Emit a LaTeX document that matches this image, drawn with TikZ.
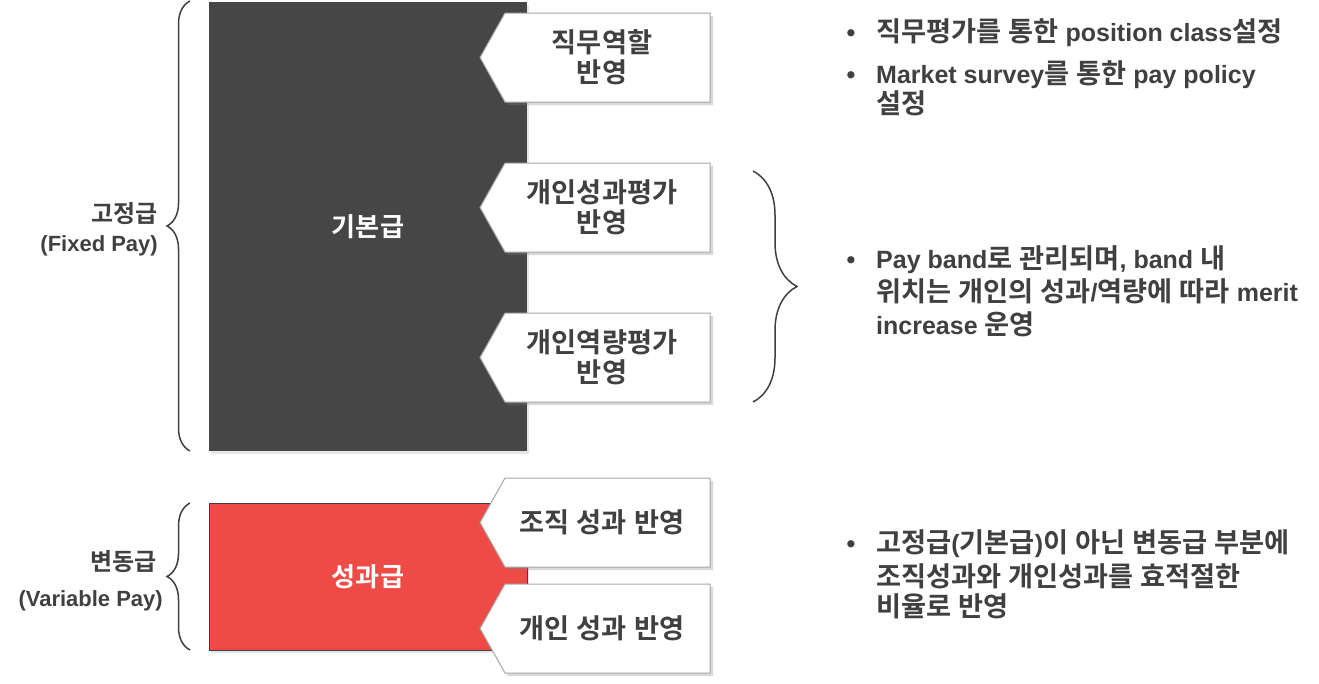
\documentclass[tikz,border=0pt]{standalone}
\usepackage{fontspec}
\setmainfont{Liberation Sans}
\newfontfamily\lab{Liberation Sans}[UprightFont=* Bold]
\newfontfamily\krb{Noto Sans CJK KR}[UprightFont=* Bold, Scale=1.09]
\usetikzlibrary{calc,shadows,decorations.pathreplacing}
\pgfdeclarelayer{bg}
\pgfdeclarelayer{mid}
\pgfsetlayers{bg,mid,main}
\definecolor{tc}{HTML}{404040}
\definecolor{darkbox}{HTML}{464646}
\definecolor{redbox}{HTML}{EE4B46}
\definecolor{boxline}{HTML}{A6A6A6}
% automatic Hangul / Latin font switching
\XeTeXinterchartokenstate=1
\chardef\krclass=20
\newcount\hc
\hc="AC00
\loop\XeTeXcharclass\hc=\krclass \advance\hc by 1 \ifnum\hc<"D7A4 \repeat
\XeTeXcharclass`\(=0
\XeTeXcharclass`\)=0
\XeTeXcharclass`\,=0
\XeTeXcharclass`\/=0
\XeTeXinterchartoks 0 \krclass={\krb}
\XeTeXinterchartoks \krclass 0={\lab}
\XeTeXinterchartoks 4095 \krclass={\krb}
\XeTeXinterchartoks \krclass 4095={\lab}
\XeTeXinterchartoks 1 \krclass={\krb}
\XeTeXinterchartoks \krclass 1={\lab}
\XeTeXinterchartoks 2 \krclass={\krb}
\XeTeXinterchartoks \krclass 2={\lab}
\XeTeXinterchartoks 3 \krclass={\krb}
\XeTeXinterchartoks \krclass 3={\lab}
\newcommand\chevshape[1]{%
  \fill[white, draw=boxline, line width=1pt,
        drop shadow={opacity=0.3, shadow xshift=3pt, shadow yshift=-3pt, fill=gray}]
    ($(#1.center)+(-97,-44.5)$) -- ($(#1.center)+(108,-44.5)$)
    -- ($(#1.center)+(108,44.5)$) -- ($(#1.center)+(-97,44.5)$)
    -- ($(#1.center)+(-122,0)$) -- cycle;}
\begin{document}
\begin{tikzpicture}[x=1pt,y=-1pt,
  boxtxt/.style={text=tc, font=\lab\fontsize{25}{30}\selectfont, align=center, inner sep=0pt},
  bigtxt/.style={text=white, font=\lab\fontsize{24}{30}\selectfont, inner sep=0pt},
  sidetxt/.style={text=tc, font=\lab\fontsize{22}{28}\selectfont, inner sep=0pt, anchor=base east},
  rtxt/.style={text=tc, font=\lab\fontsize{25}{30}\selectfont, inner sep=0pt, anchor=base west},
  bul/.style={text=tc, font=\lab\fontsize{25}{30}\selectfont, inner sep=0pt, anchor=base},
  bracestyle/.style={draw=tc, line width=1.5pt, decorate},
]
\useasboundingbox (0,0) rectangle (1319,683);

% main blocks
\begin{pgfonlayer}{bg}
\node[fill=darkbox, minimum width=318, minimum height=449, inner sep=0pt,
      drop shadow={opacity=0.2, shadow xshift=2pt, shadow yshift=-3pt, fill=gray}] (fixed) at (368,226.5) {};
\node[bigtxt] (fixedlbl) at (fixed.center) {기본급};
\node[fill=redbox, draw=tc, line width=1pt, minimum width=318, minimum height=147, inner sep=0pt,
      drop shadow={opacity=0.2, shadow xshift=2pt, shadow yshift=-3pt, fill=gray}] (var) at (368,576.5) {};
\node[bigtxt] (varlbl) at (var.center) {성과급};
\end{pgfonlayer}

% chevron labels
\node[boxtxt] (c1) at (602,57.5) {직무역할\\반영};
\node[boxtxt] (c2) at (602,207.5) {개인성과평가\\반영};
\node[boxtxt] (c3) at (602,357.5) {개인역량평가\\반영};
\node[boxtxt] (c4) at (602,522.5) {조직 성과 반영};
\node[boxtxt] (c5) at (602,628.5) {개인 성과 반영};
\begin{pgfonlayer}{mid}
\chevshape{c1}
\chevshape{c2}
\chevshape{c3}
\chevshape{c4}
\chevshape{c5}
\end{pgfonlayer}

% left braces and labels
\coordinate (b1s) at (190,451);
\coordinate (b1e) at (190,1);
\coordinate (b2s) at (190,650);
\coordinate (b2e) at (190,503);
\draw[bracestyle, decoration={brace, amplitude=23pt, aspect=0.5}] (b1s) -- (b1e);
\draw[bracestyle, decoration={brace, amplitude=23pt, aspect=0.5}] (b2s) -- (b2e);
\node[sidetxt] (l1a) at (158,222) {고정급};
\node[sidetxt] (l1b) at (158,251) {(Fixed Pay)};
\node[sidetxt] (l2a) at (157,570) {변동급};
\node[sidetxt] (l2b) at (163,606) {(Variable Pay)};

% right brace
\coordinate (b3s) at (753,171);
\coordinate (b3e) at (753,402);
\draw[bracestyle, decoration={brace, amplitude=44pt, aspect=0.5}] (b3s) -- (b3e);

% right texts
\node[bul] (d1) at (851,41.5) {•};
\node[rtxt] (t1) at (876,41.5) {직무평가를 통한 position class설정};
\node[bul] (d2) at (851,83.5) {•};
\node[rtxt] (t2) at (876,83.5) {Market survey를 통한 pay policy};
\node[rtxt] (t3) at (876,113.5) {설정};

\node[bul] (d3) at (851,268.5) {•};
\node[rtxt] (t4) at (876,268.5) {Pay band로 관리되며, band 내};
\node[rtxt] (t5) at (876,301.5) {위치는 개인의 성과/역량에 따라 merit};
\node[rtxt] (t6) at (876,334.5) {increase 운영};

\node[bul] (d4) at (851,552.5) {•};
\node[rtxt] (t7) at (876,552.5) {고정급(기본급)이 아닌 변동급 부분에};
\node[rtxt] (t8) at (876,586.5) {조직성과와 개인성과를 효적절한};
\node[rtxt] (t9) at (876,616.5) {비율로 반영};
\end{tikzpicture}
\end{document}
